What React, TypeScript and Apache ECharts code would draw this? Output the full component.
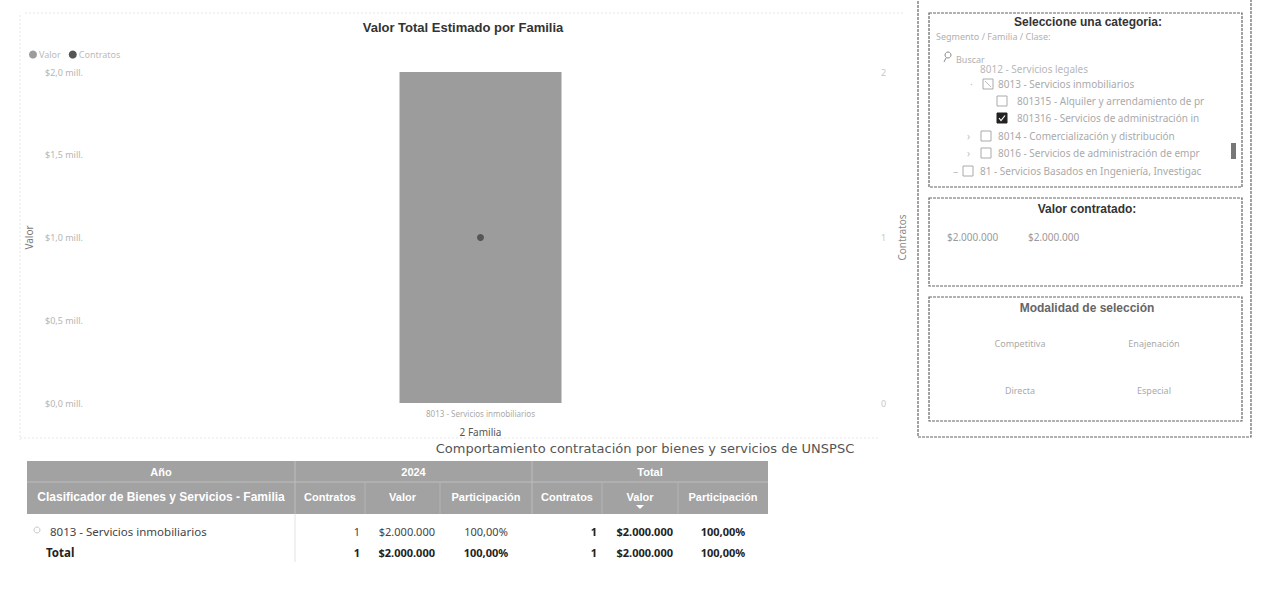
import React, { useEffect, useRef } from "react";
import * as echarts from "echarts";

// ---------- data ----------
const categories = ["8013 - Servicios inmobiliarios"];
const valorSeries = [2000000];
const contratosSeries = [1];
const chartTitle = "Valor Total Estimado por Familia";
const legendNames = ["Valor", "Contratos"];
const xAxisTitle = "2 Familia";

const tableTitle = "Comportamiento contratación por bienes y servicios de UNSPSC";
const headerGroups = ["Año", "2024", "Total"];
const columnHeaders = [
  "Clasificador de Bienes y Servicios - Familia",
  "Contratos",
  "Valor",
  "Participación",
  "Contratos",
  "Valor",
  "Participación",
];
const rowLabels = ["8013 - Servicios inmobiliarios", "Total"];
const contratos2024 = [1, 1];
const valor2024 = [2000000, 2000000];
const participacion2024 = [100, 100];
const contratosTotal = [1, 1];
const valorTotal = [2000000, 2000000];
const participacionTotal = [100, 100];

const slicerTitle = "Seleccione una categoria:";
const slicerSubtitle = "Segmento / Familia / Clase:";
const slicerSearch = "Buscar";
const treeLabels = [
  "8012 - Servicios legales",
  "8013 - Servicios inmobiliarios",
  "801315 - Alquiler y arrendamiento de pr",
  "801316 - Servicios de administración in",
  "8014 - Comercialización y distribución",
  "8016 - Servicios de administración de empr",
  "81 - Servicios Basados en Ingeniería, Investigac",
];
const valorContratadoTitle = "Valor contratado:";
const valorContratado = [2000000, 2000000];
const modalidadTitle = "Modalidad de selección";
const modalidades = ["Competitiva", "Enajenación", "Directa", "Especial"];

// ---------- helpers ----------
const fmtMoney = (v: number) => "$" + String(v).replace(/\B(?=(\d{3})+(?!\d))/g, ".");
const fmtPct = (v: number) => v.toFixed(2).replace(".", ",") + "%";
const fmtMill = (v: number) => "$" + (v / 1e6).toFixed(1).replace(".", ",") + " mill.";

const SANS = "'Liberation Sans', Arial, sans-serif";
const NOTO = "'Noto Sans', 'Open Sans', sans-serif";
const DEJAVU = "'DejaVu Sans', sans-serif";

function txt(x: number, y: number, text: string, o: any = {}) {
  const align = o.align || "left";
  return {
    type: "text",
    x,
    y,
    z: o.z ?? 10,
    silent: true,
    style: {
      text,
      fill: o.fill || "#444",
      fontSize: o.size || 11,
      fontFamily: o.family || SANS,
      fontWeight: o.weight || "normal",
      align,
      textAlign: align,
      verticalAlign: "middle",
      textVerticalAlign: "middle",
    },
  };
}
function rect(x: number, y: number, w: number, h: number, style: any, z = 5) {
  return { type: "rect", z, silent: true, shape: { x, y, width: w, height: h }, style };
}
function line(x1: number, y1: number, x2: number, y2: number, style: any, z = 6) {
  return { type: "line", z, silent: true, shape: { x1, y1, x2, y2 }, style };
}
function checkbox(x: number, y: number, checked: boolean) {
  const els: any[] = [
    rect(x, y - 5, 10, 10, checked ? { fill: "#222", stroke: "#222", lineWidth: 1 } : { fill: "none", stroke: "#aaa", lineWidth: 1 }, 11),
  ];
  if (checked) {
    els.push({
      type: "polyline",
      z: 12,
      silent: true,
      shape: { points: [[x + 2, y], [x + 4, y + 2.5], [x + 8, y - 2.5]] },
      style: { stroke: "#fff", lineWidth: 1.2, fill: "none" },
    });
  }
  return els;
}

function buildGraphics() {
  const g: any[] = [];

  // chart card faint borders
  g.push(line(25, 13, 905, 13, { stroke: "#e6e6e6", lineWidth: 1, lineDash: [2, 2] }, 2));
  g.push(line(20, 15, 20, 440, { stroke: "#e6e6e6", lineWidth: 1, lineDash: [2, 2] }, 2));
  g.push(line(20, 438, 880, 438, { stroke: "#e6e6e6", lineWidth: 1, lineDash: [2, 2] }, 2));

  // chart title
  g.push(txt(463, 27, chartTitle, { fill: "#333", size: 13, weight: "bold", align: "center" }));

  // ---------- table ----------
  g.push(txt(645, 448, tableTitle, { fill: "#555", size: 13, family: DEJAVU, align: "center" }));
  const edges = [27, 295, 365, 440, 532, 602, 678, 768];
  const r1Top = 461, r1Bot = 482, r2Bot = 514;
  const hdr = "#a2a2a2";
  g.push(rect(edges[0], r1Top, edges[7] - edges[0], r2Bot - r1Top, { fill: hdr }, 5));
  const groupSpans = [[edges[0], edges[1]], [edges[1], edges[4]], [edges[4], edges[7]]];
  headerGroups.forEach((h, i) => {
    const [a, b] = groupSpans[i];
    g.push(txt((a + b) / 2, (r1Top + r1Bot) / 2, h, { fill: "#fff", size: 11, weight: "bold", align: "center" }));
  });
  g.push(line(edges[0], r1Bot, edges[7], r1Bot, { stroke: "#bdbdbd", lineWidth: 1 }));
  [edges[1], edges[4]].forEach((x) => g.push(line(x, r1Top, x, r2Bot, { stroke: "#bdbdbd", lineWidth: 1 })));
  [edges[2], edges[3], edges[5], edges[6]].forEach((x) => g.push(line(x, r1Bot, x, r2Bot, { stroke: "#b4b4b4", lineWidth: 1 })));
  columnHeaders.forEach((h, i) => {
    const a = edges[i], b = edges[i + 1];
    g.push(txt((a + b) / 2, (r1Bot + r2Bot) / 2 - 1, h, { fill: "#fff", size: i === 0 ? 12 : 11, weight: "bold", align: "center" }));
  });
  g.push({
    type: "polygon",
    z: 12,
    silent: true,
    shape: { points: [[636, 505], [644, 505], [640, 509]] },
    style: { fill: "#fff" },
  });
  g.push(line(edges[1], r2Bot, edges[1], 562, { stroke: "#e2e2e2", lineWidth: 1 }));
  const rowY = [531, 552];
  rowLabels.forEach((lab, r) => {
    const total = r === rowLabels.length - 1;
    const col = total ? "#222" : "#444";
    const w = total ? "bold" : "normal";
    if (!total) {
      g.push({ type: "circle", z: 11, silent: true, shape: { cx: 37, cy: rowY[r] - 1, r: 3 }, style: { fill: "none", stroke: "#c8c8c8", lineWidth: 1 } });
    }
    g.push(txt(total ? 46 : 50, rowY[r], lab, { fill: col, size: 11.5, weight: w, family: NOTO }));
    g.push(txt(edges[2] - 5, rowY[r], String(contratos2024[r]), { fill: col, size: 11, weight: w, family: NOTO, align: "right" }));
    g.push(txt(edges[3] - 5, rowY[r], fmtMoney(valor2024[r]), { fill: col, size: 11, weight: w, family: NOTO, align: "right" }));
    g.push(txt((edges[3] + edges[4]) / 2, rowY[r], fmtPct(participacion2024[r]), { fill: col, size: 11, weight: w, family: NOTO, align: "center" }));
    g.push(txt(edges[5] - 5, rowY[r], String(contratosTotal[r]), { fill: "#222", size: 11, weight: "bold", family: NOTO, align: "right" }));
    g.push(txt(edges[6] - 5, rowY[r], fmtMoney(valorTotal[r]), { fill: "#222", size: 11, weight: "bold", family: NOTO, align: "right" }));
    g.push(txt((edges[6] + edges[7]) / 2, rowY[r], fmtPct(participacionTotal[r]), { fill: "#222", size: 11, weight: "bold", family: NOTO, align: "center" }));
  });

  // ---------- right panel ----------
  const border = { fill: "none", stroke: "#666", lineWidth: 1.2, lineDash: [3, 1] };
  g.push(rect(918, -4, 333, 441, border, 8));
  g.push(rect(929, 13, 313, 174, border, 8));
  g.push(rect(929, 198, 313, 88, border, 8));
  g.push(rect(929, 297, 313, 124, border, 8));

  // slicer
  g.push(txt(1088, 22, slicerTitle, { fill: "#333", size: 12, weight: "bold", align: "center" }));
  g.push(txt(936, 36, slicerSubtitle, { fill: "#b0b0b0", size: 9, family: NOTO }));
  g.push(txt(980, 69, treeLabels[0], { fill: "#b8b8b8", size: 10, family: NOTO }));
  g.push(rect(935, 50, 300, 15, { fill: "#fff" }, 11));
  g.push({ type: "circle", z: 12, silent: true, shape: { cx: 948, cy: 55, r: 3 }, style: { fill: "none", stroke: "#888", lineWidth: 1 } });
  g.push(line(946, 58, 944, 62, { stroke: "#888", lineWidth: 1 }, 12));
  g.push(txt(956, 59, slicerSearch, { fill: "#b0b0b0", size: 9, family: NOTO, z: 12 }));

  const tree = [
    { y: 84, arrowX: 970, arrow: "·", boxX: 983, checked: false, partial: true, textX: 998, idx: 1 },
    { y: 101, arrowX: 0, arrow: "", boxX: 997, checked: false, partial: false, textX: 1017, idx: 2 },
    { y: 118, arrowX: 0, arrow: "", boxX: 997, checked: true, partial: false, textX: 1017, idx: 3 },
    { y: 136, arrowX: 967, arrow: "›", boxX: 981, checked: false, partial: false, textX: 998, idx: 4 },
    { y: 153, arrowX: 967, arrow: "›", boxX: 981, checked: false, partial: false, textX: 998, idx: 5 },
    { y: 171, arrowX: 953, arrow: "–", boxX: 963, checked: false, partial: false, textX: 980, idx: 6 },
  ];
  tree.forEach((t) => {
    if (t.arrow) g.push(txt(t.arrowX, t.y, t.arrow, { fill: "#c0c0c0", size: 10, family: NOTO }));
    g.push(...checkbox(t.boxX, t.y, t.checked));
    if (t.partial) g.push(line(t.boxX + 2, t.y - 3, t.boxX + 8, t.y + 3, { stroke: "#bbb", lineWidth: 1 }, 12));
    g.push(txt(t.textX, t.y, treeLabels[t.idx], { fill: "#aaa", size: 10, family: NOTO }));
  });
  g.push(rect(1231, 143, 5, 16, { fill: "#777" }, 12));

  // valor contratado
  g.push(txt(1087, 209, valorContratadoTitle, { fill: "#333", size: 12, weight: "bold", align: "center" }));
  g.push(txt(947, 237, fmtMoney(valorContratado[0]), { fill: "#9a9a9a", size: 10, family: NOTO }));
  g.push(txt(1028, 237, fmtMoney(valorContratado[1]), { fill: "#9a9a9a", size: 10, family: NOTO }));

  // modalidad
  g.push(txt(1087, 308, modalidadTitle, { fill: "#666", size: 12, weight: "bold", align: "center" }));
  const modPos = [[1020, 343], [1154, 343], [1020, 390], [1154, 390]];
  modalidades.forEach((m, i) => g.push(txt(modPos[i][0], modPos[i][1], m, { fill: "#aaa", size: 9, family: NOTO, align: "center" })));

  return g;
}

export default function App() {
  const ref = useRef<HTMLDivElement>(null);
  useEffect(() => {
    if (!ref.current) return;
    const chart = echarts.init(ref.current, null, { renderer: "svg" });
    chart.setOption({
      animation: false,
      backgroundColor: "#fff",
      textStyle: { fontFamily: NOTO },
      legend: {
        left: 24,
        top: 45,
        itemWidth: 8,
        itemHeight: 8,
        itemGap: 8,
        icon: "circle",
        textStyle: { color: "#bbb", fontSize: 9, fontFamily: NOTO, padding: [0, 0, 0, -3] },
        data: legendNames,
      },
      grid: { left: 90, right: 404, top: 72, bottom: 193, containLabel: false },
      xAxis: {
        type: "category",
        data: categories,
        axisLine: { show: false },
        axisTick: { show: false },
        axisLabel: { color: "#aaa", fontSize: 8, margin: 6, fontFamily: NOTO },
        name: xAxisTitle,
        nameLocation: "middle",
        nameGap: 24,
        nameTextStyle: { color: "#555", fontSize: 10, fontFamily: NOTO },
      },
      yAxis: [
        {
          type: "value",
          min: 0,
          max: 2000000,
          interval: 500000,
          splitLine: { show: false },
          axisLine: { show: false },
          axisTick: { show: false },
          axisLabel: { color: "#b5b5b5", fontSize: 9, margin: 7, formatter: (v: number) => fmtMill(v), fontFamily: NOTO },
          name: legendNames[0],
          nameLocation: "middle",
          nameGap: 43,
          nameRotate: 90,
          nameTextStyle: { color: "#777", fontSize: 10, fontFamily: NOTO },
        },
        {
          type: "value",
          min: 0,
          max: 2,
          interval: 1,
          position: "right",
          splitLine: { show: false },
          axisLine: { show: false },
          axisTick: { show: false },
          axisLabel: { color: "#c8c8c8", fontSize: 9, margin: 10, fontFamily: NOTO },
          name: legendNames[1],
          nameLocation: "middle",
          nameGap: 24,
          nameRotate: 90,
          nameTextStyle: { color: "#888", fontSize: 10, fontFamily: NOTO },
        },
      ],
      series: [
        {
          name: legendNames[0],
          type: "bar",
          data: valorSeries,
          barWidth: 162,
          itemStyle: { color: "#9c9c9c" },
          yAxisIndex: 0,
        },
        {
          name: legendNames[1],
          type: "line",
          data: contratosSeries,
          yAxisIndex: 1,
          symbol: "circle",
          symbolSize: 7,
          showSymbol: true,
          itemStyle: { color: "#555" },
          lineStyle: { width: 0 },
          z: 5,
        },
      ],
      graphic: { elements: buildGraphics() },
    });
    return () => chart.dispose();
  }, []);
  return (
    <div
      ref={ref}
      style={{ position: "fixed", left: 0, top: 0, width: 1275, height: 596, background: "#fff" }}
    />
  );
}
